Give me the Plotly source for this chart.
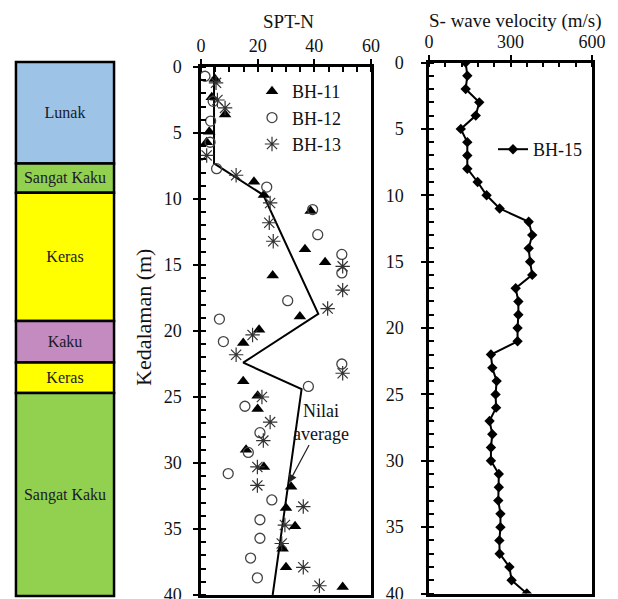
import plotly.graph_objects as go

# ---------------- data ----------------
# Soil column
layer_names = ["Lunak", "Sangat Kaku", "Keras", "Kaku", "Keras", "Sangat Kaku"]
layer_top = [0.0, 7.6, 9.8, 19.4, 22.5, 24.8]
layer_bottom = [7.6, 9.8, 19.4, 22.5, 24.8, 40.0]
layer_colors = ["#9DC3E6", "#92D050", "#FFFF00", "#C48BC0", "#FFFF00", "#92D050"]

# SPT-N, BH-11
bh11_depth = [0.9, 2.3, 3.6, 4.9, 5.7, 8.7, 9.7, 10.9, 13.8, 14.8, 15.8, 18.9, 19.9, 20.9,
              23.8, 24.9, 25.9, 29.0, 30.3, 31.8, 33.4, 34.8, 36.5, 37.9, 39.4]
bh11_n = [4.9, 3.8, 8.5, 2.9, 2.0, 18.7, 22.2, 38.7, 36.7, 43.8, 25.3, 34.9, 20.5, 14.9,
          14.9, 20.0, 20.0, 15.9, 22.2, 31.8, 30.0, 33.2, 28.8, 30.0, 50.0]

# SPT-N, BH-12
bh12_depth = [0.7, 2.6, 4.1, 5.7, 7.7, 9.1, 10.8, 12.7, 14.2, 15.6, 17.7, 19.1, 20.8, 22.5,
              24.2, 25.7, 27.7, 29.2, 30.8, 32.8, 34.3, 35.7, 37.2, 38.7]
bh12_n = [1.4, 4.3, 3.4, 3.2, 5.5, 23.2, 39.4, 41.2, 49.7, 49.7, 30.6, 6.5, 7.9, 49.7,
          37.9, 15.5, 20.8, 16.7, 9.6, 25.0, 20.8, 20.8, 17.5, 19.9]

# SPT-N, BH-13
bh13_depth = [1.2, 2.5, 3.1, 6.7, 8.2, 10.3, 11.8, 13.2, 15.1, 16.9, 18.3, 20.3, 21.8, 23.2,
              25.0, 26.9, 28.3, 30.3, 31.7, 33.3, 34.7, 36.1, 37.9, 39.3]
bh13_n = [5.3, 5.8, 8.5, 2.0, 12.4, 24.4, 24.1, 25.5, 50.0, 50.0, 44.7, 18.2, 12.4, 50.0,
          21.5, 24.4, 22.0, 19.9, 19.9, 36.1, 29.6, 28.5, 36.1, 41.8]

# Average SPT-N line
avg_depth = [0.0, 7.3, 9.7, 18.7, 22.4, 24.4, 40.0]
avg_n = [4.6, 4.6, 22.0, 41.4, 14.9, 35.5, 25.3]

# S-wave velocity, BH-15
vs_depth = [0, 1, 2, 3, 4, 5, 6, 7, 8, 9, 10, 11, 12, 13, 14, 15, 16, 17, 18, 19, 20,
            21, 22, 23, 24, 25, 26, 27, 28, 29, 30, 31, 32, 33, 34, 35, 36, 37, 38, 39, 40]
vs_value = [135, 141, 135, 185, 172, 117, 141, 141, 141, 179, 212, 260, 367, 380, 367, 372,
            380, 319, 329, 329, 326, 326, 228, 233, 249, 245, 247, 223, 233, 228, 228, 257,
            257, 255, 263, 263, 259, 260, 296, 304, 360]

# ---------------- figure ----------------
# the page body has an 8px margin; positions below are window pixels
OFF = 8
W, H = 618 - OFF, 599
FONT = "Liberation Serif"


def px_x(p):
    return (p - OFF) / W


def px_y(p):
    return 1 - (p - OFF) / H


fig = go.Figure()

# soil column as bars placed by base depth
fig.add_trace(go.Bar(
    x=[0] * len(layer_names),
    y=[b - t for t, b in zip(layer_top, layer_bottom)],
    base=layer_top,
    width=1,
    marker=dict(color=layer_colors, line=dict(color="black", width=2.5)),
    text=layer_names,
    textposition="inside",
    insidetextanchor="middle",
    textangle=0,
    textfont=dict(family=FONT, size=16, color="#1a1a2a"),
    xaxis="x3", yaxis="y3",
    showlegend=False, hoverinfo="skip",
))

# average line
fig.add_trace(go.Scatter(
    x=avg_n, y=avg_depth, mode="lines",
    line=dict(color="black", width=2),
    showlegend=False, xaxis="x", yaxis="y",
))

fig.add_trace(go.Scatter(
    x=bh11_n, y=bh11_depth, mode="markers", name="BH-11",
    marker=dict(symbol="triangle-up", size=11, color="black"),
    xaxis="x", yaxis="y", legend="legend",
))
fig.add_trace(go.Scatter(
    x=bh12_n, y=bh12_depth, mode="markers", name="BH-12",
    marker=dict(symbol="circle-open", size=10, color="#444", line=dict(width=1.3)),
    xaxis="x", yaxis="y", legend="legend",
))
fig.add_trace(go.Scatter(
    x=bh13_n, y=bh13_depth, mode="markers", name="BH-13",
    marker=dict(symbol="asterisk-open", size=12, color="#333", line=dict(width=1.2, color="#333")),
    xaxis="x", yaxis="y", legend="legend",
))

fig.add_trace(go.Scatter(
    x=vs_value, y=vs_depth, mode="lines+markers", name="BH-15",
    line=dict(color="black", width=2),
    marker=dict(symbol="diamond", size=8, color="black"),
    xaxis="x2", yaxis="y2", legend="legend2",
))

axis_common = dict(
    showline=True, linewidth=2.5, linecolor="black", mirror=True,
    showgrid=False, zeroline=False, automargin=False,
    ticks="outside", ticklen=5, tickwidth=2, tickcolor="black",
    tickfont=dict(family=FONT, size=18, color="#111"),
)
minor_common = dict(ticks="inside", ticklen=5, tickwidth=1.5, tickcolor="black")

fig.update_layout(
    width=W, height=H,
    template="none",
    margin=dict(l=0, r=0, t=0, b=0, pad=0, autoexpand=False),
    paper_bgcolor="white", plot_bgcolor="white",
    font=dict(family=FONT, size=18, color="#111"),
    barmode="overlay",
    xaxis=dict(
        domain=[px_x(201), px_x(371)], range=[0, 60], side="top", anchor="y",
        dtick=20, minor=dict(dtick=5, **minor_common),
        ticklabelstandoff=0, **axis_common,
    ),
    yaxis=dict(
        domain=[px_y(595), px_y(67)], range=[40, 0], anchor="x",
        dtick=5, minor=dict(dtick=1, **minor_common),
        ticklabelstandoff=8, **axis_common,
    ),
    xaxis2=dict(
        domain=[px_x(429), px_x(592)], range=[0, 600], side="top", anchor="y2",
        dtick=300, minor=dict(dtick=60, **minor_common),
        ticklabelstandoff=0, **axis_common,
    ),
    yaxis2=dict(
        domain=[px_y(593.5), px_y(62.5)], range=[40, 0], anchor="x2",
        dtick=5, minor=dict(dtick=1, **minor_common),
        ticklabelstandoff=14, **axis_common,
    ),
    xaxis3=dict(domain=[px_x(14), px_x(116)], range=[-0.52, 0.52], visible=False,
                fixedrange=True, automargin=False),
    yaxis3=dict(domain=[px_y(598.7), px_y(59.3)], range=[40.2, -0.2], visible=False,
                anchor="x3", fixedrange=True, automargin=False),
    legend=dict(
        x=px_x(252), y=px_y(73), xanchor="left", yanchor="top",
        bgcolor="rgba(0,0,0,0)", font=dict(family=FONT, size=18, color="#111"),
        itemwidth=30, tracegroupgap=0,
    ),
    legend2=dict(
        x=px_x(493), y=px_y(131), xanchor="left", yanchor="top",
        bgcolor="rgba(0,0,0,0)", font=dict(family=FONT, size=18, color="#111"),
    ),
    annotations=[
        dict(text="SPT-N", x=px_x(288), y=px_y(21), xref="paper", yref="paper",
             xanchor="center", yanchor="middle",
             showarrow=False, font=dict(family=FONT, size=19, color="#111")),
        dict(text="S- wave velocity (m/s)", x=px_x(515), y=px_y(21), xref="paper", yref="paper",
             xanchor="center", yanchor="middle",
             showarrow=False, font=dict(family=FONT, size=19, color="#111")),
        dict(text="Kedalaman (m)", x=px_x(143), y=px_y(318), xref="paper", yref="paper",
             xanchor="center", yanchor="middle",
             textangle=-90, showarrow=False, font=dict(family=FONT, size=22, color="#111")),
        dict(text="Nilai<br>average", x=31.0, y=31.5, xref="x", yref="y",
             ax=42.5, ay=26.9, axref="x", ayref="y",
             showarrow=True, arrowhead=2, arrowsize=1.4, arrowwidth=1.2, arrowcolor="#222",
             font=dict(family=FONT, size=18, color="#111")),
    ],
)

fig.write_html("out.html")
